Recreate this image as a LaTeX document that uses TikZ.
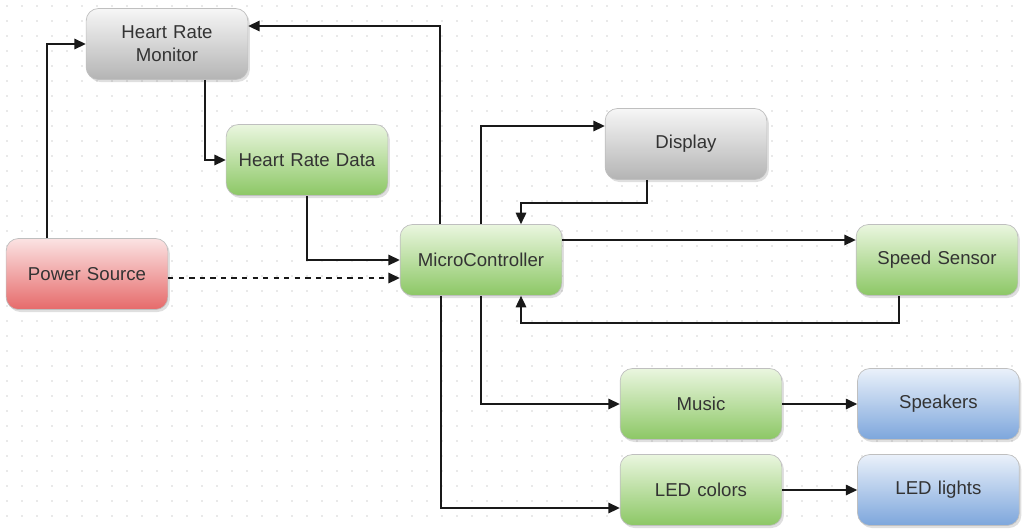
\documentclass[tikz,border=0pt]{standalone}
\usepackage{fontspec}
\setmainfont{Liberation Sans}
\usetikzlibrary{positioning, arrows.meta, shadows}

\definecolor{greytop}{HTML}{F6F6F6}
\definecolor{greybot}{HTML}{B4B4B4}
\definecolor{greenop}{HTML}{EAF6DF}
\definecolor{greenbot}{HTML}{8CC765}
\definecolor{redtop}{HTML}{FBE3E3}
\definecolor{redbot}{HTML}{E66A6A}
\definecolor{bluetop}{HTML}{EAF1FA}
\definecolor{bluebot}{HTML}{7DA6DC}
\definecolor{textgray}{HTML}{333333}
\definecolor{dotgray}{HTML}{D2D2D2}

\begin{document}
\begin{tikzpicture}[node distance=1.5cm, auto,
  box/.style={rectangle, rounded corners=7pt, draw=black!25, thin, minimum width=3.14cm, minimum height=1.42cm, text width=3cm, text centered, text=textgray, font=\fontsize{10.6}{13}\selectfont, drop shadow={opacity=0.25, shadow xshift=0.04cm, shadow yshift=-0.05cm}},
  greybox/.style={box, top color=greytop, bottom color=greybot},
  greenbox/.style={box, top color=greenop, bottom color=greenbot},
  redbox/.style={box, top color=redtop, bottom color=redbot},
  bluebox/.style={box, top color=bluetop, bottom color=bluebot},
  arrow/.style={line width=0.8pt, black!90, -{Triangle[length=6.5pt, width=6pt]}}
]
\useasboundingbox (0,0) rectangle (20.44,-10.58);

% dotted background
\foreach \i in {0,...,67}
  \foreach \j in {0,...,35}
    \fill[dotgray] (0.14+\i*0.3, -0.12-\j*0.3) circle (0.018);

\node (hrm) [greybox] at (3.34,-0.88) {Heart Rate\\Monitor};
\node (hrd) [greenbox] at (6.14,-3.2) {Heart Rate Data};
\node (power) [redbox] at (1.74,-5.48) {Power Source};
\node (mc) [greenbox] at (9.62,-5.2) {MicroController};
\node (display) [greybox] at (13.72,-2.88) {Display};
\node (speed) [greenbox] at (18.74,-5.2) {Speed Sensor};
\node (music) [greenbox] at (14.02,-8.08) {Music};
\node (speakers) [bluebox, right=of music] {Speakers};
\node (ledc) [greenbox] at (14.02,-9.8) {LED colors};
\node (ledl) [bluebox, right=of ledc] {LED lights};

\coordinate (dashin) at ([yshift=-0.36cm]mc.west);

\draw [arrow] ([xshift=-0.8cm]power.north) |- (hrm.west);
\draw [arrow] ([xshift=0.76cm]hrm.south) |- (hrd.west);
\draw [arrow] (hrd.south) |- (mc.west);
\draw [arrow, dashed] (power.east |- dashin) -- (dashin);
\draw [arrow] ([xshift=-0.82cm]mc.north) |- ([yshift=0.36cm]hrm.east);
\draw [arrow] (mc.north) |- ([yshift=0.36cm]display.west);
\draw [arrow] ([xshift=-0.78cm]display.south) -- ++(0,-0.46) -| ([xshift=0.8cm]mc.north);
\draw [arrow] ([yshift=0.4cm]mc.east) -- ([yshift=0.4cm]speed.west);
\draw [arrow] ([xshift=-0.76cm]speed.south) -- ++(0,-0.54) -| ([xshift=0.8cm]mc.south);
\draw [arrow] (mc.south) |- (music.west);
\draw [arrow] ([xshift=-0.8cm]mc.south) |- ([yshift=-0.36cm]ledc.west);
\draw [arrow] (music) -- (speakers);
\draw [arrow] (ledc) -- (ledl);

\end{tikzpicture}
\end{document}
